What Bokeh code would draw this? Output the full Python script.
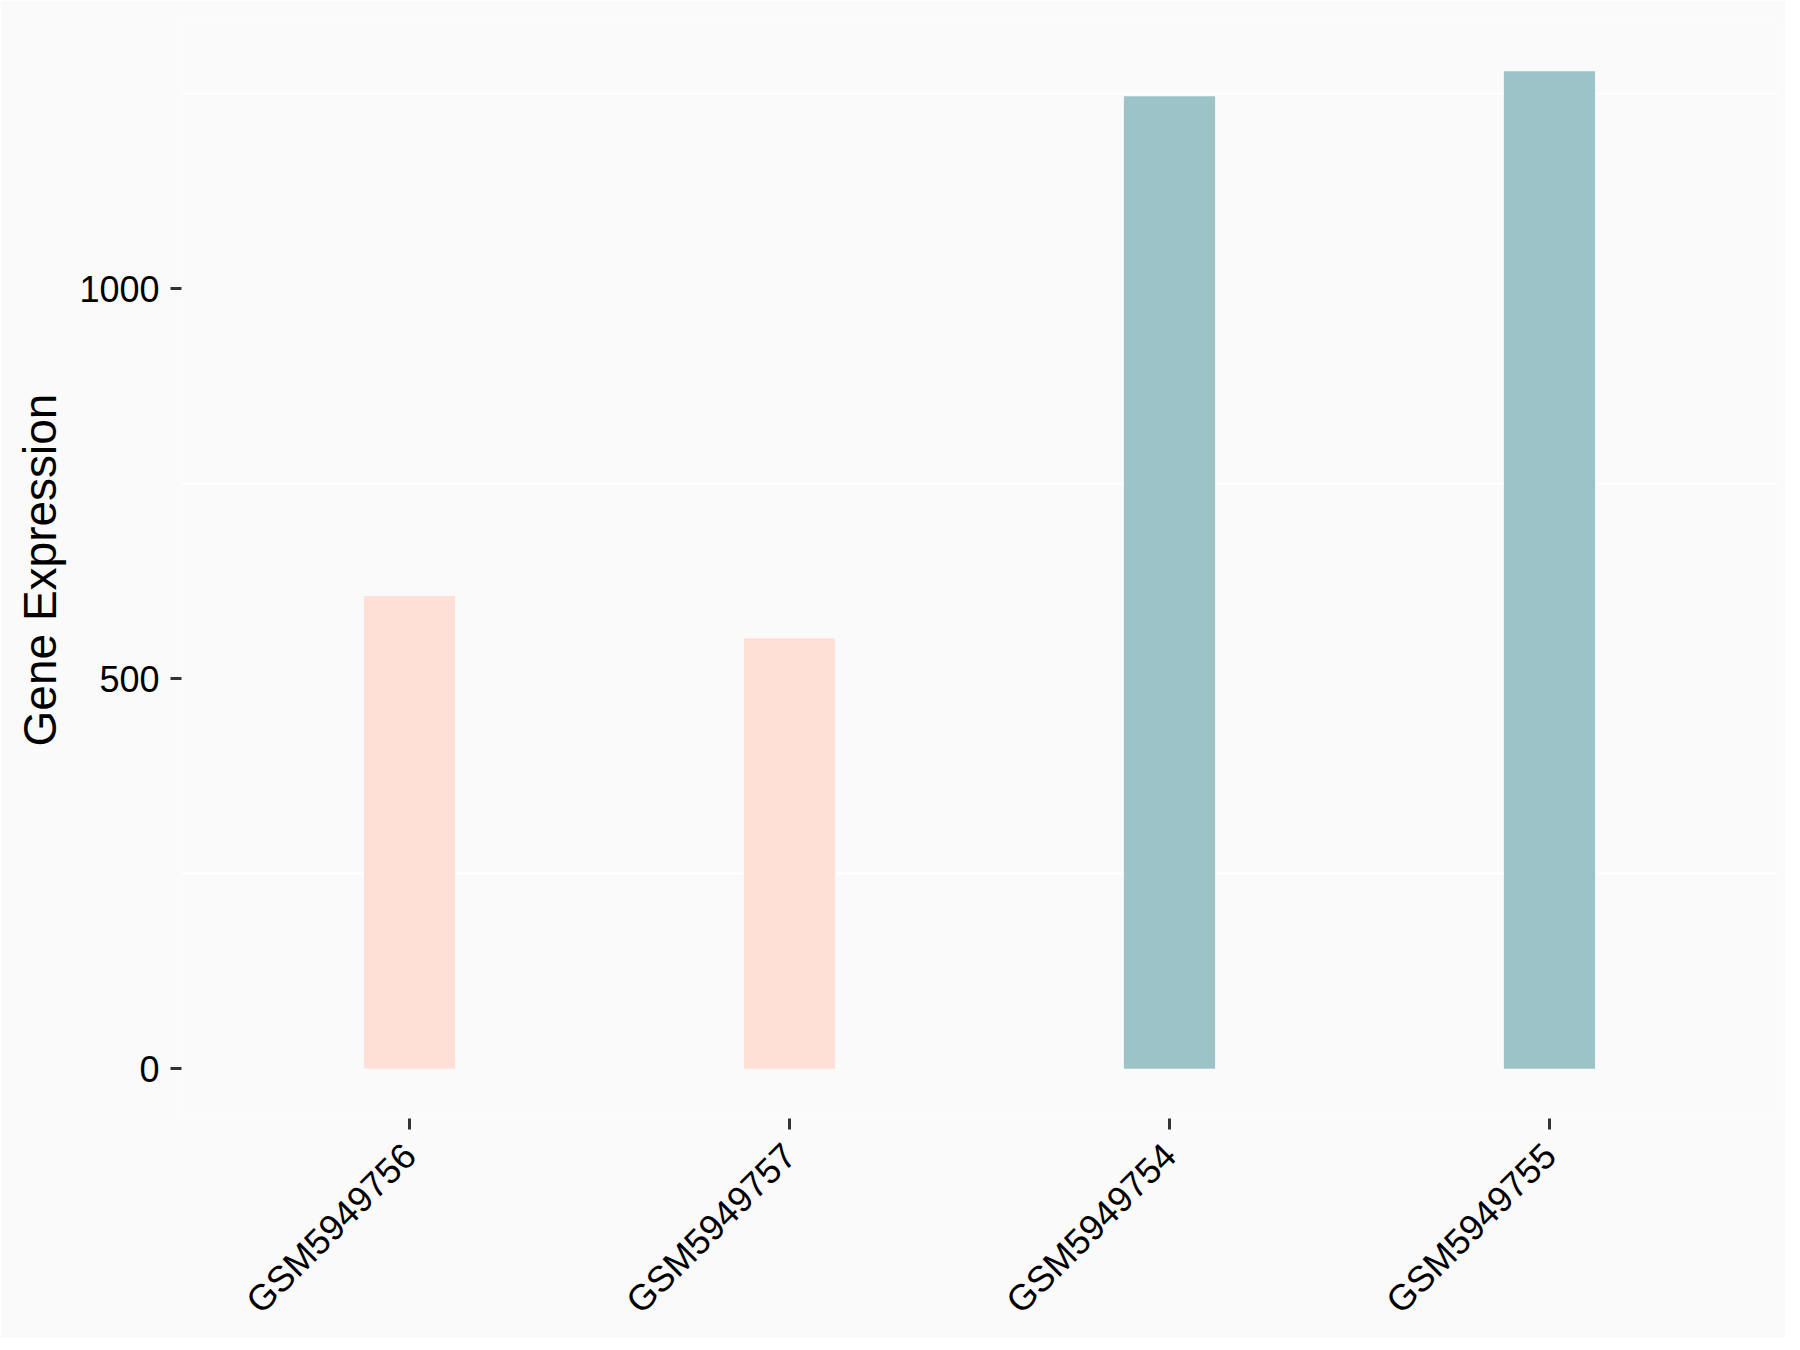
import math
from bokeh.plotting import figure
from bokeh.models import ColumnDataSource, Range1d, FixedTicker
from bokeh.embed import file_html
from bokeh.resources import INLINE

samples = ["GSM5949756", "GSM5949757", "GSM5949754", "GSM5949755"]
expression = [606, 552, 1247, 1279]
groups = ["g1", "g1", "g2", "g2"]
group_colors = {"g1": "#FEE0D6", "g2": "#9CC4C8"}
y_ticks = [0, 500, 1000]
y_grid = [250, 750, 1250]

BG = "#FAFAFA"
FONT = "Liberation Sans"

src = ColumnDataSource(dict(
    x=samples,
    top=expression,
    color=[group_colors[g] for g in groups],
))

ymax = max(expression)
pad = ymax * 0.05

p = figure(
    x_range=samples,
    y_range=Range1d(-pad, ymax + pad),
    frame_width=1596, frame_height=1097,
    min_border_left=181, min_border_top=21, min_border_right=8, min_border_bottom=205,
    output_backend="svg", toolbar_location=None,
    background_fill_color=BG, border_fill_color=BG,
)
p.outline_line_color = None
p.x_range.range_padding = 0.1
p.x_range.range_padding_units = "absolute"

p.vbar(x="x", top="top", bottom=0, width=0.24, fill_color="color", line_color=None, source=src)

p.xgrid.grid_line_color = None
p.ygrid.ticker = FixedTicker(ticks=y_grid)
p.ygrid.grid_line_color = "#FFFFFF"
p.ygrid.grid_line_width = 2

p.yaxis.ticker = FixedTicker(ticks=y_ticks, minor_ticks=[])
p.yaxis.axis_label = "Gene Expression"

for ax in (p.xaxis[0], p.yaxis[0]):
    ax.axis_line_color = None
    ax.major_tick_line_color = "#333333"
    ax.major_tick_line_width = 3
    ax.major_tick_out = 11
    ax.major_tick_in = 0
    ax.minor_tick_line_color = None
    ax.major_label_text_font = FONT
    ax.major_label_text_font_size = "36px"
    ax.major_label_text_color = "#000000"
    ax.axis_label_text_font = FONT
    ax.axis_label_text_font_size = "46px"
    ax.axis_label_text_font_style = "normal"
    ax.axis_label_text_color = "#000000"

p.yaxis.major_label_standoff = 11
p.yaxis.axis_label_standoff = 10
p.xaxis.major_label_standoff = 20
p.xaxis.major_label_orientation = math.pi / 4

open("out.html", "w").write(file_html(p, INLINE))
